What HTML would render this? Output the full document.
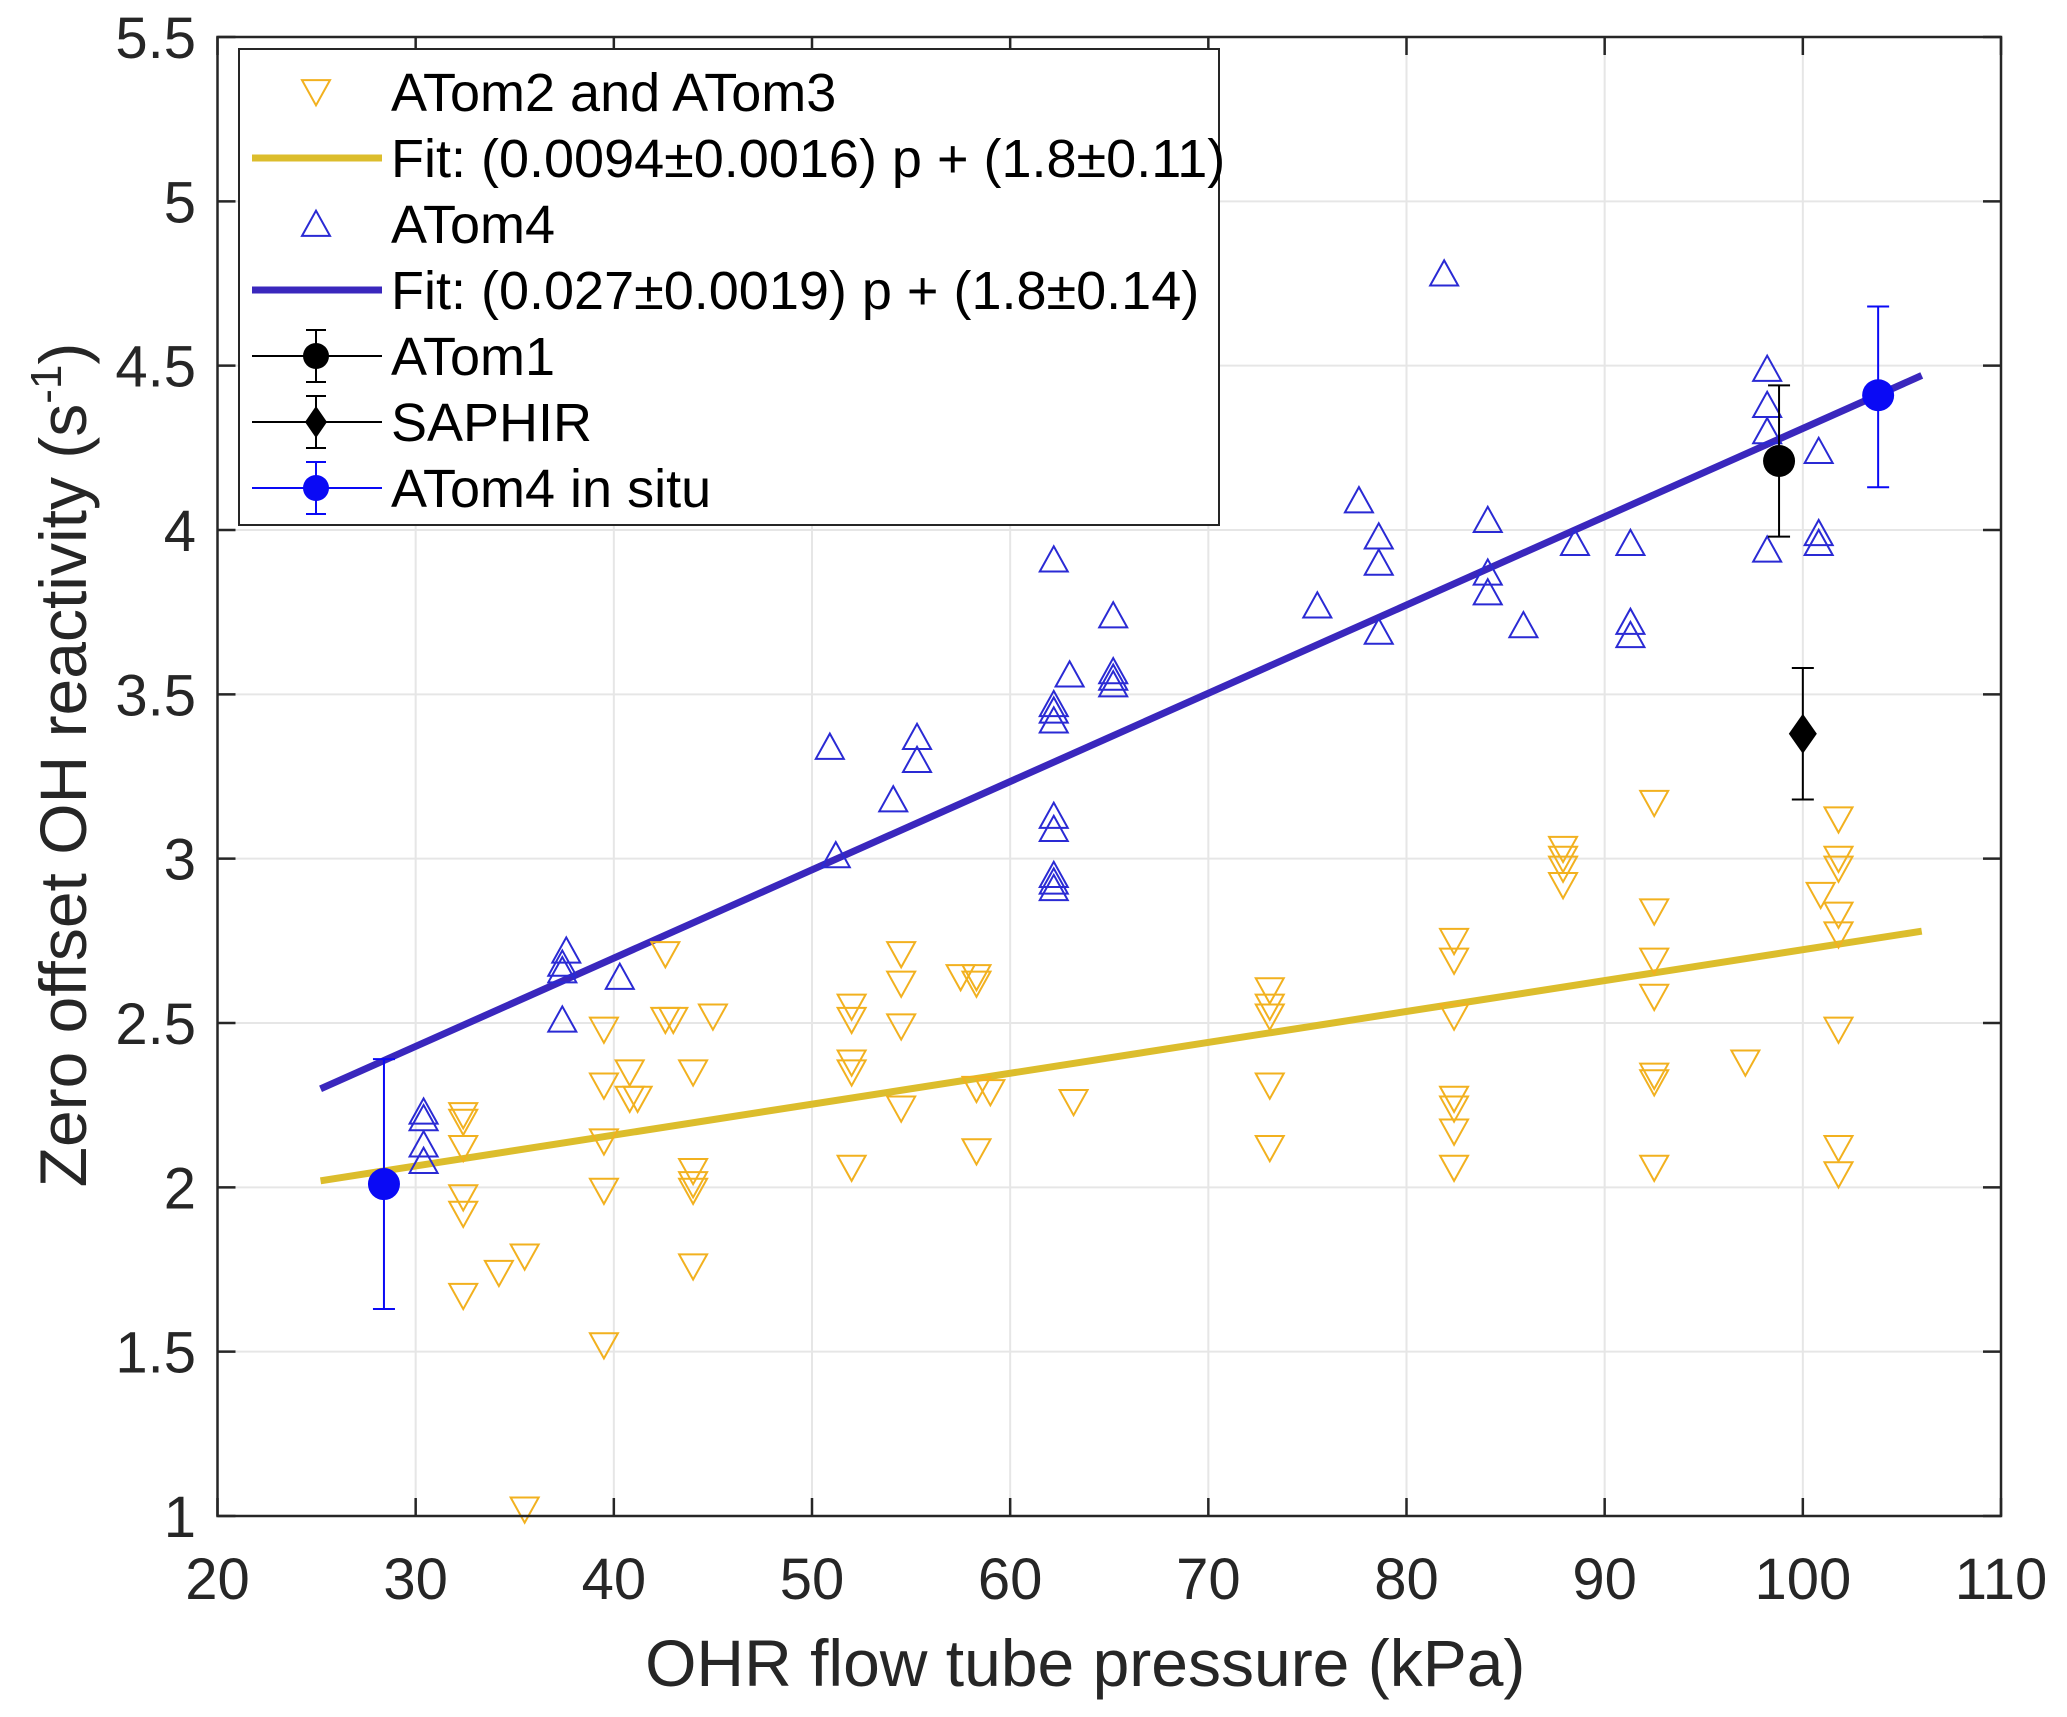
<!DOCTYPE html>
<html><head><meta charset="utf-8"><style>
html,body{margin:0;padding:0;background:#fff;}
svg{display:block;font-family:"Liberation Sans",Arial,sans-serif;}
</style></head><body>
<svg id="chart" width="2067" height="1717" viewBox="0 0 2067 1717" xmlns="http://www.w3.org/2000/svg"></svg>
<script>
const xTicks=[20,30,40,50,60,70,80,90,100,110];
const yTicks=[1,1.5,2,2.5,3,3.5,4,4.5,5,5.5];
const yTickLabels=["1","1.5","2","2.5","3","3.5","4","4.5","5","5.5"];
const atom23X=[32.4,32.4,32.4,32.4,32.4,32.4,34.2,35.5,35.5,39.5,39.5,39.5,39.5,39.5,40.8,40.8,41.2,42.6,42.6,43.0,44,44,44,44,44,45,52,52,52,52,52,54.5,54.5,54.5,54.5,57.5,58.3,58.3,58.3,58.3,59,63.2,73.1,73.1,73.1,73.1,73.1,82.4,82.4,82.4,82.4,82.4,82.4,82.4,87.9,87.9,87.9,87.9,92.5,92.5,92.5,92.5,92.5,92.5,92.5,97.1,100.9,101.8,101.8,101.8,101.8,101.8,101.8,101.8,101.8];
const atom23Y=[2.22,2.2,2.12,1.97,1.92,1.67,1.74,1.79,1.02,2.48,2.31,2.14,1.99,1.52,2.35,2.27,2.27,2.71,2.51,2.51,2.35,2.05,2.01,1.99,1.76,2.52,2.55,2.51,2.38,2.35,2.06,2.71,2.62,2.49,2.24,2.64,2.64,2.62,2.3,2.11,2.29,2.26,2.6,2.55,2.52,2.31,2.12,2.75,2.69,2.52,2.27,2.24,2.17,2.06,3.03,3.0,2.97,2.92,3.17,2.84,2.69,2.58,2.34,2.32,2.06,2.38,2.89,3.12,3.0,2.97,2.83,2.77,2.48,2.12,2.04];
const atom4X=[30.4,30.4,30.4,30.4,37.4,37.4,37.4,37.6,40.3,50.9,51.2,54.1,55.3,55.3,62.2,62.2,62.2,62.2,62.2,62.2,62.2,62.2,62.2,63.0,65.2,65.2,65.2,65.2,75.5,77.6,78.6,78.6,78.6,81.9,84.1,84.1,84.1,85.9,88.5,91.3,91.3,91.3,98.2,98.2,98.2,98.2,100.8,100.8,100.8];
const atom4Y=[2.23,2.21,2.13,2.08,2.51,2.66,2.68,2.72,2.64,3.34,3.01,3.18,3.37,3.3,3.91,3.47,3.45,3.42,3.13,3.09,2.95,2.93,2.91,3.56,3.74,3.57,3.55,3.53,3.77,4.09,3.98,3.9,3.69,4.78,4.03,3.87,3.81,3.71,3.96,3.96,3.72,3.68,4.49,4.38,4.3,3.94,4.24,3.99,3.96];
const fit23=[0.0094,1.783];
const fit4=[0.02686,1.623];
const fitRange=[25.2,106];
const atom1=[98.8,4.21,3.98,4.44];
const saphir=[100,3.38,3.18,3.58];
const insituX=[28.4,103.8];
const insituY=[2.01,4.41];
const insituLo=[1.63,4.13];
const insituHi=[2.39,4.68];

const L=217.5,R=2001,T=37,B=1516;
const X=v=>L+(v-20)/90*(R-L);
const Y=v=>B-(v-1)/4.5*(B-T);
const svg=document.getElementById('chart');
const NS='http://www.w3.org/2000/svg';
function mk(tag,attrs,parent){const e=document.createElementNS(NS,tag);for(const k in attrs)e.setAttribute(k,attrs[k]);(parent||svg).appendChild(e);return e;}

const grid=mk('g',{});


xTicks.forEach(t=>{if(t>20&&t<110)mk('line',{x1:X(t),x2:X(t),y1:T,y2:B,stroke:'#e6e6e6','stroke-width':2},grid);});
yTicks.forEach(t=>{if(t>1&&t<5.5)mk('line',{x1:L,x2:R,y1:Y(t),y2:Y(t),stroke:'#e6e6e6','stroke-width':2},grid);});

function fitLine(f,color,name){const l=mk('line',{x1:X(fitRange[0]),y1:Y(f[0]*fitRange[0]+f[1]),x2:X(fitRange[1]),y2:Y(f[0]*fitRange[1]+f[1]),stroke:color,'stroke-width':7});

}
fitLine(fit23,'#dcbd2c','fit-atom2-atom3');
fitLine(fit4,'#3a27bd','fit-atom4');

const s=14;
function down(x,y,c,p){return mk('polygon',{points:`${x-s},${y-s*0.85} ${x+s},${y-s*0.85} ${x},${y+s*0.95}`,fill:'none',stroke:c,'stroke-width':2},p);}
function up(x,y,c,p){return mk('polygon',{points:`${x-s},${y+s*0.85} ${x+s},${y+s*0.85} ${x},${y-s*0.95}`,fill:'none',stroke:c,'stroke-width':2},p);}
const g23=mk('g',{});


atom23X.forEach((x,i)=>{const m=down(X(x),Y(atom23Y[i]),'#f2b11f',g23);

});
const g4=mk('g',{});


atom4X.forEach((x,i)=>{const m=up(X(x),Y(atom4Y[i]),'#2a2ad4',g4);

});

function errbar(x,lo,hi,c,p){mk('line',{x1:X(x),x2:X(x),y1:Y(lo),y2:Y(hi),stroke:c,'stroke-width':2},p);
[lo,hi].forEach(v=>mk('line',{x1:X(x)-11,x2:X(x)+11,y1:Y(v),y2:Y(v),stroke:c,'stroke-width':2},p));}
const ga1=mk('g',{});


errbar(atom1[0],atom1[2],atom1[3],'#000',ga1);
mk('circle',{cx:X(atom1[0]),cy:Y(atom1[1]),r:16,fill:'#000'},ga1);
const gs=mk('g',{});


errbar(saphir[0],saphir[2],saphir[3],'#000',gs);
{const cx=X(saphir[0]),cy=Y(saphir[1]);mk('polygon',{points:`${cx},${cy-20} ${cx+14},${cy} ${cx},${cy+20} ${cx-14},${cy}`,fill:'#000'},gs);}
insituX.forEach((x,i)=>{const g=mk('g',{});


errbar(x,insituLo[i],insituHi[i],'#0a0af5',g);
mk('circle',{cx:X(x),cy:Y(insituY[i]),r:16,fill:'#0a0af5'},g);});

const ax=mk('g',{});


mk('rect',{x:L,y:T,width:R-L,height:B-T,fill:'none',stroke:'#262626','stroke-width':2.5},ax);
xTicks.forEach(t=>{mk('line',{x1:X(t),x2:X(t),y1:B,y2:B-18,stroke:'#262626','stroke-width':2.5},ax);mk('line',{x1:X(t),x2:X(t),y1:T,y2:T+18,stroke:'#262626','stroke-width':2.5},ax);
const tx=mk('text',{x:X(t),y:1599,'text-anchor':'middle','font-size':58,fill:'#262626'},ax);tx.textContent=t;

});
yTicks.forEach((t,i)=>{mk('line',{x1:L,x2:L+18,y1:Y(t),y2:Y(t),stroke:'#262626','stroke-width':2.5},ax);mk('line',{x1:R,x2:R-18,y1:Y(t),y2:Y(t),stroke:'#262626','stroke-width':2.5},ax);
const tx=mk('text',{x:196,y:Y(t)+21,'text-anchor':'end','font-size':58,fill:'#262626'},ax);tx.textContent=yTickLabels[i];

});
const xt=mk('text',{x:(L+R)/2-24,y:1686,'text-anchor':'middle','font-size':66,fill:'#262626'});
xt.textContent='OHR flow tube pressure (kPa)';


const yt=mk('text',{x:0,y:0,'text-anchor':'middle','font-size':66,fill:'#262626',transform:'translate(86,765) rotate(-90)'});
yt.innerHTML='Zero offset OH reactivity (s<tspan dy="-25" font-size="44">-1</tspan><tspan dy="25">)</tspan>';



const lg=mk('g',{});


mk('rect',{x:239,y:49,width:980,height:476,fill:'#fff',stroke:'#262626','stroke-width':2},lg);
const rows=[92,158,224,290,356,422,488];
const labels=['ATom2 and ATom3','Fit: (0.0094\u00b10.0016) p + (1.8\u00b10.11)','ATom4','Fit: (0.027\u00b10.0019) p + (1.8\u00b10.14)','ATom1','SAPHIR','ATom4 in situ'];
const names=['legend-atom23','legend-fit-atom23','legend-atom4','legend-fit-atom4','legend-atom1','legend-saphir','legend-atom4-insitu'];
rows.forEach((y,i)=>{const e=mk('g',{},lg);


const mx=316;
if(i==0)down(mx,y,'#f2b11f',e);
if(i==2)up(mx,y,'#2a2ad4',e);
if(i==1)mk('line',{x1:252,x2:382,y1:y,y2:y,stroke:'#dcbd2c','stroke-width':7},e);
if(i==3)mk('line',{x1:252,x2:382,y1:y,y2:y,stroke:'#3a27bd','stroke-width':7},e);
if(i>=4){const c=i==6?'#0a0af5':'#000';mk('line',{x1:252,x2:382,y1:y,y2:y,stroke:c,'stroke-width':2},e);
mk('line',{x1:mx,x2:mx,y1:y-26,y2:y+26,stroke:c,'stroke-width':2},e);
[y-26,y+26].forEach(v=>mk('line',{x1:mx-10,x2:mx+10,y1:v,y2:v,stroke:c,'stroke-width':2},e));
if(i==5)mk('polygon',{points:`${mx},${y-16} ${mx+11},${y} ${mx},${y+16} ${mx-11},${y}`,fill:c},e);
else mk('circle',{cx:mx,cy:y,r:13,fill:c},e);}
const t=mk('text',{x:391,y:y+19,'font-size':54,fill:'#000'},e);t.textContent=labels[i];});
</script>
</body></html>
